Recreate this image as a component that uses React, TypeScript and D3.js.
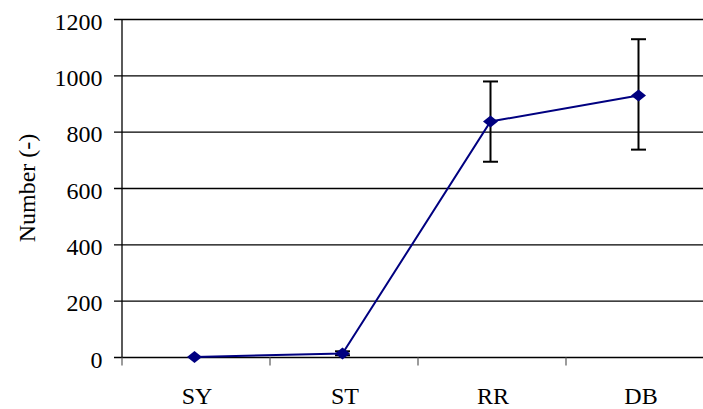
import React from "react";
import * as d3 from "d3";

const categories = ["SY", "ST", "RR", "DB"];
const values = [2, 14, 838, 930];
const errLow = [0, 8, 695, 738];
const errHigh = [0, 22, 980, 1130];
const yTicks = [0, 200, 400, 600, 800, 1000, 1200];

export default function App() {
  const W = 703, H = 409;
  const left = 122, right = 714, top = 19.5, bottom = 357.5;
  const x = d3.scaleBand<string>().domain(categories).range([left, right]);
  const y = d3.scaleLinear().domain([0, 1200]).range([bottom, top]);
  const cx = (c: string) => (x(c) as number) + x.bandwidth() / 2 - 1.5;
  const line = d3.line<number>().x((_, i) => cx(categories[i])).y((v) => y(v));
  const font = "'Liberation Serif', 'Times New Roman', serif";
  const diamond = "M0,-6L7.5,0L0,6L-7.5,0Z";
  return (
    <svg width={W} height={H} style={{ position: "absolute", left: 0, top: 0, background: "#fff" }}>
      {yTicks.map((t) => (
        <g key={t}>
          <line x1={left - 8} x2={W} y1={y(t)} y2={y(t)} stroke="#000" strokeWidth={1.3} />
          <text x={102.5} y={y(t)} dy="0.42em" textAnchor="end" fontFamily={font} fontSize={24} fill="#000">{t}</text>
        </g>
      ))}
      <line x1={left} x2={left} y1={top} y2={bottom} stroke="#000" strokeWidth={1.3} />
      {[...categories.map((c) => x(c) as number), right].map((p, i) => (
        <line key={i} x1={p} x2={p} y1={bottom} y2={bottom + 8} stroke="#666" strokeWidth={1.3} />
      ))}
      {categories.map((c) => (
        <text key={c} x={cx(c) + 2.5} y={404} textAnchor="middle" fontFamily={font} fontSize={24} fill="#000">{c}</text>
      ))}
      <text transform="translate(27,188) rotate(-90)" textAnchor="middle" dy="0.35em" fontFamily={font} fontSize={24} fill="#000">Number (-)</text>
      {categories.map((c, i) => errHigh[i] > errLow[i] ? (
        <g key={c} stroke="#000" strokeWidth={2}>
          <line x1={cx(c)} x2={cx(c)} y1={y(errHigh[i])} y2={y(errLow[i])} />
          <line x1={cx(c) - 7.5} x2={cx(c) + 7.5} y1={y(errHigh[i])} y2={y(errHigh[i])} />
          <line x1={cx(c) - 7.5} x2={cx(c) + 7.5} y1={y(errLow[i])} y2={y(errLow[i])} />
        </g>
      ) : null)}
      <path d={line(values) || ""} fill="none" stroke="#000080" strokeWidth={2} />
      {categories.map((c, i) => (
        <path key={c} d={diamond} transform={`translate(${cx(c)},${y(values[i])})`} fill="#000080" />
      ))}
    </svg>
  );
}
